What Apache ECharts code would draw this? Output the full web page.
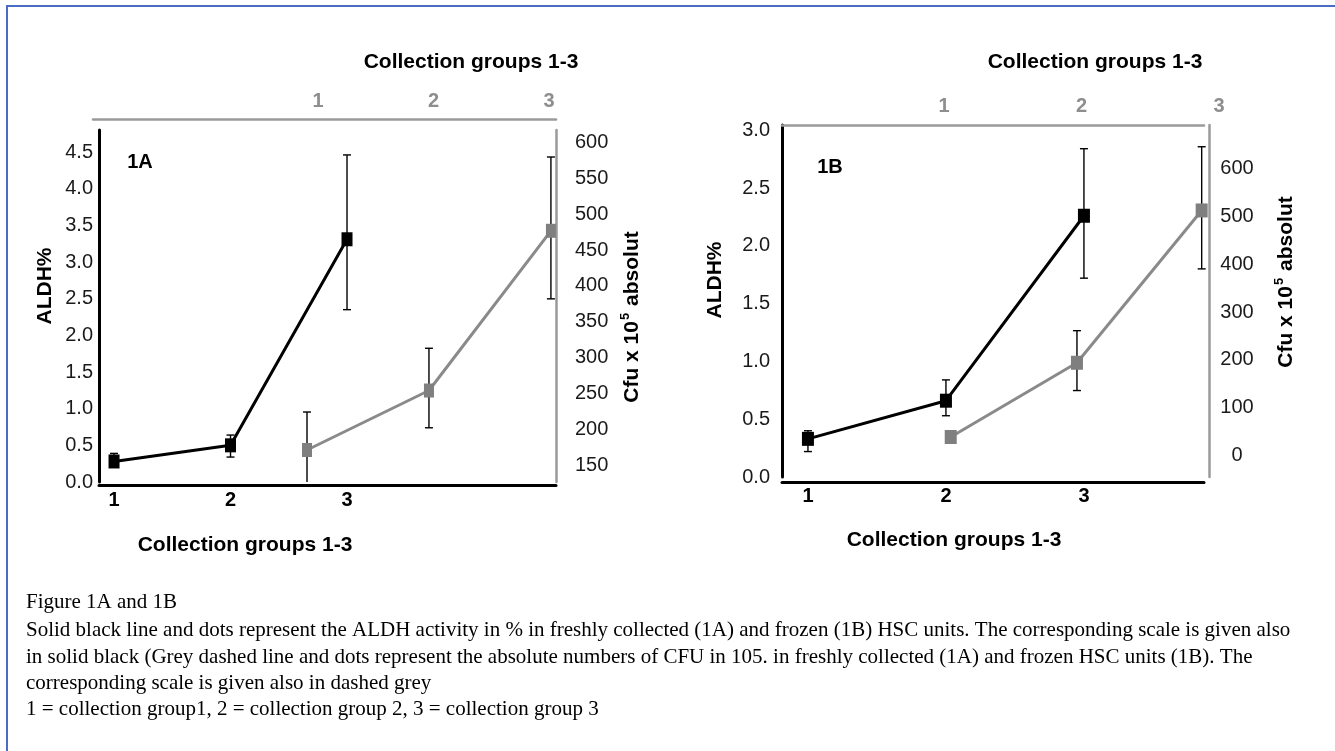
<!DOCTYPE html>
<html><head><meta charset="utf-8">
<script src="https://cdn.jsdelivr.net/npm/echarts@6/dist/echarts.min.js"></script>
<style>
html,body{margin:0;padding:0;background:#fff;}
#wrap{position:relative;width:1335px;height:751px;overflow:hidden;background:#fff;}
#chart{position:absolute;left:0;top:0;width:1335px;height:751px;}
#frame{position:absolute;left:6px;top:5px;width:1400px;height:800px;border-left:2px solid #4a6cc4;border-top:2px solid #4a6cc4;pointer-events:none;}
</style></head><body>
<div id="wrap"><div id="chart"></div><div id="frame"></div></div>
<script>
// ---------- data ----------
const groupTicks = [1, 2, 3];

// Panel 1A (freshly collected)
const groupsA = [1, 2, 3];
const aldhA = [0.28, 0.50, 3.31];
const aldhA_low = [0.21, 0.34, 2.35];
const aldhA_high = [0.39, 0.64, 4.46];
const cfuA_pos = [0.905, 1.961, 3.017];   // positions on the grey top axis
const cfuA = [171, 254, 477];
const cfuA_low = [118, 202, 382];
const cfuA_high = [224, 313, 580];
const aldhTicksA = [0, 0.5, 1.0, 1.5, 2.0, 2.5, 3.0, 3.5, 4.0, 4.5];
const cfuTicksA = [150, 200, 250, 300, 350, 400, 450, 500, 550, 600];

// Panel 1B (frozen)
const groupsB = [1, 2, 3];
const aldhB = [0.33, 0.66, 2.26];
const aldhB_low = [0.22, 0.53, 1.72];
const aldhB_high = [0.40, 0.84, 2.84];
const cfuB_pos = [1.049, 1.967, 2.874];
const cfuB = [39, 194, 512];
const cfuB_low = [29, 136, 390];
const cfuB_high = [50, 261, 645];
const aldhTicksB = [0, 0.5, 1.0, 1.5, 2.0, 2.5, 3.0];
const cfuTicksB = [0, 100, 200, 300, 400, 500, 600];

const captionLines = [
  'Figure 1A and 1B',
  'Solid black line and dots represent the ALDH activity in % in freshly collected (1A) and frozen (1B) HSC units. The corresponding scale is given also',
  'in solid black (Grey dashed line and dots represent the absolute numbers of CFU in 105. in freshly collected (1A) and frozen HSC units (1B). The',
  'corresponding scale is given also in dashed grey',
  '1 = collection group1, 2 = collection group 2, 3 = collection group 3'
];

// ---------- styling ----------
const SANS = 'Liberation Sans, Arial, Helvetica, sans-serif';
const SERIF = 'Liberation Serif, Times New Roman, serif';
const BLACK = '#000000';
const GREY_AXIS = '#9a9a9a';
const GREY_LABEL = '#8e8e8e';
const GREY_LINE = '#8a8a8a';
const GREY_MARK = '#7f7f7f';

function xAxisDef(o) {
  return Object.assign({
    type: 'value', splitLine: {show: false}, axisTick: {show: false},
    axisLine: {show: true, onZero: false, lineStyle: {color: BLACK, width: 3}},
    axisLabel: {show: true, customValues: groupTicks, formatter: v => String(v),
      fontFamily: SANS, fontWeight: 'bold', fontSize: 20, color: BLACK}
  }, o);
}
function yAxisDef(o) {
  return Object.assign({
    type: 'value', splitLine: {show: false}, axisTick: {show: false},
    axisLine: {show: true, onZero: false, lineStyle: {color: BLACK, width: 3}}
  }, o);
}

function errorBars(xi, yi, xs, lows, highs) {
  return {
    type: 'custom', xAxisIndex: xi, yAxisIndex: yi, clip: true, z: 3,
    encode: {x: 0, y: [1, 2]},
    data: xs.map((x, i) => [x, lows[i], highs[i]]),
    renderItem: function (params, api) {
      const x = api.value(0);
      const pHi = api.coord([x, api.value(2)]);
      const pLo = api.coord([x, api.value(1)]);
      const w = 4;
      const st = {stroke: BLACK, lineWidth: 1.4};
      return {type: 'group', children: [
        {type: 'line', shape: {x1: pHi[0], y1: pHi[1], x2: pLo[0], y2: pLo[1]}, style: st},
        {type: 'line', shape: {x1: pHi[0] - w, y1: pHi[1], x2: pHi[0] + w, y2: pHi[1]}, style: st},
        {type: 'line', shape: {x1: pLo[0] - w, y1: pLo[1], x2: pLo[0] + w, y2: pLo[1]}, style: st}
      ]};
    }
  };
}
function lineSeries(xi, yi, xs, ys, color, lineColor, size) {
  return {
    type: 'line', xAxisIndex: xi, yAxisIndex: yi, z: 4,
    data: xs.map((x, i) => [x, ys[i]]),
    symbol: 'rect', symbolSize: size, showSymbol: true,
    itemStyle: {color: color},
    lineStyle: {color: lineColor, width: 3},
    emphasis: {disabled: true}
  };
}

function txt(text, x, y, o) {
  return {type: 'text', x: x, y: y, rotation: (o && o.rotation) || 0, silent: true,
    style: Object.assign({text: text, fill: BLACK, fontFamily: SANS, fontSize: 21, fontWeight: 'bold',
      align: 'center', verticalAlign: 'middle'}, (o && o.style) || {})};
}
function cfuName(x, y) {
  return {type: 'text', x: x, y: y, rotation: Math.PI / 2, silent: true,
    style: {text: '{a|Cfu x 10}{s|5}{a| absolut}', align: 'center', verticalAlign: 'middle',
      rich: {
        a: {fontFamily: SANS, fontSize: 21, fontWeight: 'bold', fill: BLACK, lineHeight: 26},
        s: {fontFamily: SANS, fontSize: 13, fontWeight: 'bold', fill: BLACK, verticalAlign: 'top', lineHeight: 26, padding: [0, 1, 10, 1]}
      }}};
}

const option = {
  animation: false,
  backgroundColor: '#ffffff',
  grid: [
    {left: 99, top: 130, width: 457, height: 352},   // 1A black
    {left: 93, top: 130, width: 463, height: 352},   // 1A grey
    {left: 782, top: 125, width: 422, height: 352},  // 1B black
    {left: 782, top: 125, width: 448, height: 352}   // 1B grey
  ],
  xAxis: [
    xAxisDef({gridIndex: 0, position: 'bottom', min: 0.871, max: 4.794, offset: 3,
      axisLabel: {customValues: groupTicks, formatter: v => String(v), fontFamily: SANS, fontWeight: 'bold', fontSize: 20, color: BLACK, margin: 5}}),
    xAxisDef({gridIndex: 1, position: 'top', min: -0.948, max: 3.061, offset: 11,
      axisLine: {show: true, onZero: false, lineStyle: {color: GREY_AXIS, width: 2.5}},
      axisLabel: {customValues: groupTicks, formatter: v => String(v), fontFamily: SANS, fontWeight: 'bold', fontSize: 20, color: GREY_LABEL, margin: 8}}),
    xAxisDef({gridIndex: 2, position: 'bottom', min: 0.812, max: 3.870, offset: 5,
      axisLabel: {customValues: groupTicks, formatter: v => String(v), fontFamily: SANS, fontWeight: 'bold', fontSize: 20, color: BLACK, margin: 4}}),
    xAxisDef({gridIndex: 2, position: 'top', min: 0, max: 1,
      axisLine: {show: true, onZero: false, lineStyle: {color: GREY_AXIS, width: 2.5}},
      axisLabel: {show: false}}),
    xAxisDef({gridIndex: 3, position: 'top', min: -0.178, max: 3.08,
      axisLine: {show: false, onZero: false},
      axisLabel: {customValues: groupTicks, formatter: v => String(v), fontFamily: SANS, fontWeight: 'bold', fontSize: 20, color: GREY_LABEL, margin: 9}})
  ],
  yAxis: [
    yAxisDef({gridIndex: 0, position: 'left', min: 0, max: 4.8,
      axisLabel: {customValues: aldhTicksA, formatter: v => v.toFixed(1), fontFamily: SANS, fontSize: 20, color: '#1a1a1a', margin: 6}}),
    yAxisDef({gridIndex: 1, position: 'right', min: 126.3, max: 617.7,
      axisLine: {show: true, onZero: false, lineStyle: {color: GREY_AXIS, width: 2.5}},
      axisLabel: {customValues: cfuTicksA, formatter: v => String(v), fontFamily: SANS, fontSize: 20, color: '#1a1a1a', margin: 19, align: 'left'}}),
    yAxisDef({gridIndex: 2, position: 'left', min: 0, max: 3.045,
      axisLabel: {customValues: aldhTicksB, formatter: v => v.toFixed(1), fontFamily: SANS, fontSize: 20, color: '#1a1a1a', margin: 12}}),
    yAxisDef({gridIndex: 3, position: 'right', offset: -21, min: -44.5, max: 690.4,
      axisLine: {show: true, onZero: false, lineStyle: {color: GREY_AXIS, width: 2.5}},
      axisLabel: {customValues: cfuTicksB, formatter: v => String(v), fontFamily: SANS, fontSize: 20, color: '#1a1a1a', margin: 28, align: 'center'}})
  ],
  series: [
    errorBars(0, 0, groupsA, aldhA_low, aldhA_high),
    lineSeries(0, 0, groupsA, aldhA, BLACK, BLACK, [11, 14]),
    errorBars(1, 1, cfuA_pos, cfuA_low, cfuA_high),
    lineSeries(1, 1, cfuA_pos, cfuA, GREY_MARK, GREY_LINE, [10, 14]),
    errorBars(2, 2, groupsB, aldhB_low, aldhB_high),
    lineSeries(2, 2, groupsB, aldhB, BLACK, BLACK, [12, 14]),
    errorBars(4, 3, cfuB_pos, cfuB_low, cfuB_high),
    lineSeries(4, 3, cfuB_pos, cfuB, GREY_MARK, GREY_LINE, [12, 14])
  ],
  graphic: [
    txt('Collection groups 1-3', 471, 62),
    txt('Collection groups 1-3', 245, 545),
    txt('Collection groups 1-3', 1095, 62),
    txt('Collection groups 1-3', 954, 540),
    txt('1A', 140, 162, {style: {fontSize: 20}}),
    txt('1B', 830, 167, {style: {fontSize: 20}}),
    txt('ALDH%', 45, 286, {rotation: Math.PI / 2}),
    txt('ALDH%', 715, 280, {rotation: Math.PI / 2}),
    cfuName(632, 317),
    cfuName(1286, 282)
  ].concat(captionLines.map((line, i) => ({
    type: 'text', x: 26, y: [602, 630, 657, 683, 709][i], silent: true,
    style: {text: line, fill: BLACK, fontFamily: SERIF, fontSize: 21, align: 'left', verticalAlign: 'middle'}
  })))
};

const chart = echarts.init(document.getElementById('chart'), null, {renderer: 'canvas'});
chart.setOption(option);
</script>
</body></html>
